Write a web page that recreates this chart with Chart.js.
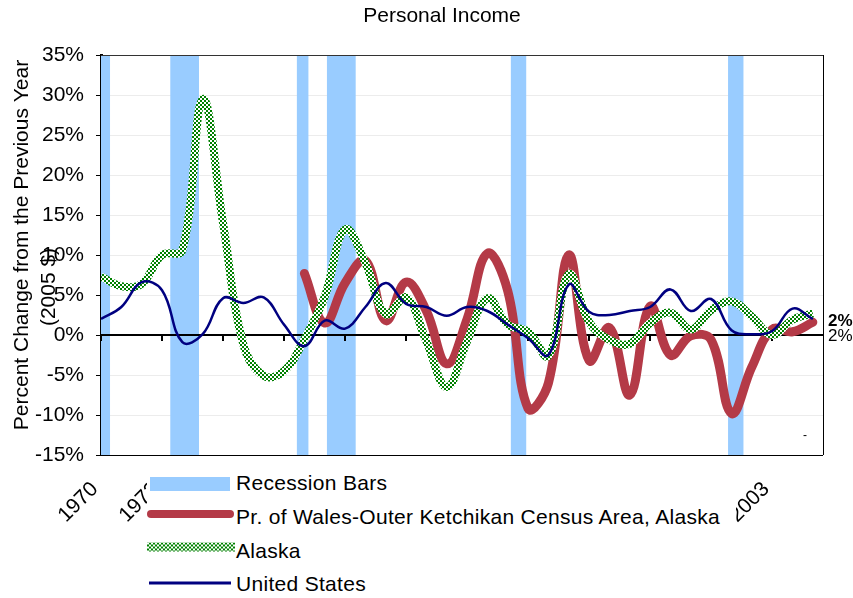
<!DOCTYPE html>
<html>
<head>
<meta charset="utf-8">
<script src="https://cdn.jsdelivr.net/npm/chart.js@4.4.0/dist/chart.umd.min.js"></script>
<style>
  html, body { margin: 0; padding: 0; background: #fff; }
  #wrap { position: relative; width: 853px; height: 598px; }
  #legend { position: absolute; left: 147px; top: 458px; width: 589px; height: 140px; background: #fff;
            font-family: "Liberation Sans", Arial, sans-serif; font-size: 21px; color: #000; }
  .sw, .txt { position: absolute; transform: translateY(-50%); }
  .txt { left: 89px; white-space: nowrap; line-height: 1; letter-spacing: 0.3px; }
</style>
</head>
<body>
<div id="wrap">
  <canvas id="chart" width="853" height="598"></canvas>
  <div id="legend"></div>
</div>
<script>
const years = [1970, 1971, 1972, 1973, 1974, 1975, 1976, 1977, 1978, 1979,
               1980, 1981, 1982, 1983, 1984, 1985, 1986, 1987, 1988, 1989,
               1990, 1991, 1992, 1993, 1994, 1995, 1996, 1997, 1998, 1999,
               2000, 2001, 2002, 2003, 2004, 2005];
const walesValues = [null, null, null, null, null, null, null, null, null, null,
                     7.7, 1.5, 6.5, 9.3, 1.8, 6.6, 3.0, -3.6, 2.0, 10.2,
                     5.5, -9.2, -6.0, 10.0, -3.2, 0.9, -7.5, 3.6, -2.5, -0.1,
                     -0.6, -9.8, -4.0, 0.7, 0.4, 1.6];
const alaskaValues = [7.3, 6.1, 6.4, 10.0, 10.6, 29.5, 14.0, -1.2, -5.1, -4.5,
                      -0.5, 4.8, 13.2, 9.0, 2.6, 4.7, -0.8, -6.5, -0.8, 4.6,
                      1.3, 0.4, -2.6, 7.6, 1.6, -0.6, -1.1, 1.5, 2.8, 0.7,
                      3.1, 4.2, 2.3, 0.0, 1.9, 2.7];
const usValues = [2.0, 3.5, 6.6, 5.6, -0.9, 0.1, 4.6, 4.0, 4.7, 1.3,
                  -1.4, 1.8, 0.8, 3.5, 6.5, 3.9, 3.5, 2.4, 3.5, 3.0,
                  1.3, -0.4, -2.5, 6.3, 2.9, 2.5, 3.0, 3.5, 5.7, 3.0,
                  4.5, 0.6, 0.1, 0.5, 3.3, 2.0];
const recessionStart = [1969.9, 1973.4, 1979.62, 1981.1, 1990.14, 2000.83];
const recessionEnd = [1970.45, 1974.82, 1980.21, 1982.53, 1990.92, 2001.6];
const tickYears = [1970, 1973, 1976, 1979, 1982, 1985, 1988, 1991, 1994, 1997, 2000, 2003];
const yMin = -15, yMax = 35, yStep = 5;

const FONT = '"Liberation Sans", Arial, sans-serif';
Chart.defaults.font.family = FONT;
Chart.defaults.color = '#000';

const RED = '#B43A47';
const NAVY = '#000080';
const BAR_BLUE = '#99CCFF';

// checkered green pattern for the Alaska line
function checker() {
    const c = document.createElement('canvas');
    c.width = 4; c.height = 4;
    const g = c.getContext('2d');
    g.fillStyle = '#ffffff';
    g.fillRect(0, 0, 4, 4);
    g.fillStyle = '#008000';
    g.fillRect(0, 0, 2, 2);
    g.fillRect(2, 2, 2, 2);
    return g.createPattern(c, 'repeat');
}

function series(vals) {
    return years.map(function(y, i) { return { x: y, y: vals[i] }; });
}

const recessionPoints = [];
for (let i = 0; i < recessionStart.length; i++) {
    recessionPoints.push({ x: recessionStart[i], y: yMax });
    recessionPoints.push({ x: recessionEnd[i], y: yMax });
    recessionPoints.push({ x: recessionEnd[i], y: null });
}

const extras = {
    id: 'extras',
    afterDatasetDraw(chart, args) {
        if (args.index !== 0) return;
        // zero axis with tick marks
        const ctx = chart.ctx, a = chart.chartArea;
        const xs = chart.scales.x, ys = chart.scales.y;
        const y0 = Math.round(ys.getPixelForValue(0));
        ctx.save();
        ctx.strokeStyle = '#000';
        ctx.lineWidth = 2;
        ctx.beginPath();
        ctx.moveTo(a.left, y0);
        ctx.lineTo(a.right, y0);
        tickYears.forEach(function(t) {
            const px = Math.round(xs.getPixelForValue(t));
            ctx.moveTo(px, y0);
            ctx.lineTo(px, y0 + 6);
        });
        ctx.stroke();
        ctx.restore();
    },
    afterDraw(chart) {
        const ctx = chart.ctx, a = chart.chartArea;
        ctx.save();
        // frame
        ctx.lineWidth = 1;
        ctx.strokeStyle = '#333';
        ctx.beginPath();
        ctx.moveTo(a.left, a.top + 0.5); ctx.lineTo(a.right, a.top + 0.5);
        ctx.stroke();
        ctx.strokeStyle = '#000';
        ctx.beginPath();
        ctx.moveTo(a.right + 0.5, a.top); ctx.lineTo(a.right + 0.5, a.bottom);
        ctx.moveTo(a.left, a.bottom + 0.5); ctx.lineTo(a.right, a.bottom + 0.5);
        ctx.stroke();

        ctx.fillStyle = '#000';
        ctx.textAlign = 'center';
        ctx.textBaseline = 'middle';
        ctx.font = '21px ' + FONT;
        ctx.fillText('Personal Income', 442, 16);

        ctx.save();
        ctx.translate(22, 245);
        ctx.rotate(-Math.PI / 2);
        ctx.fillText('Percent Change from the Previous Year', 0, 0);
        ctx.restore();
        ctx.save();
        ctx.translate(49, 287);
        ctx.rotate(-Math.PI / 2);
        ctx.fillText('(2005 $)', 0, 0);
        ctx.restore();

        // end labels
        ctx.textAlign = 'left';
        ctx.font = 'bold 17px ' + FONT;
        ctx.fillText(Math.round(walesValues[walesValues.length - 1]) + '%', 828, 321);
        ctx.font = '17px ' + FONT;
        ctx.fillText(Math.round(usValues[usValues.length - 1]) + '%', 828, 336);
        ctx.font = '12px ' + FONT;
        ctx.fillText('-', 803, 436);
        ctx.restore();
    }
};

const chart = new Chart(document.getElementById('chart'), {
    type: 'line',
    data: {
        datasets: [
            {
                label: 'Recession Bars',
                data: recessionPoints,
                borderColor: 'rgba(0,0,0,0)',
                borderWidth: 0,
                backgroundColor: BAR_BLUE,
                fill: 'start',
                tension: 0,
                pointRadius: 0,
                spanGaps: false,
                order: 4
            },
            {
                label: 'Pr. of Wales-Outer Ketchikan Census Area, Alaska',
                data: series(walesValues),
                borderColor: RED,
                borderWidth: 9,
                borderCapStyle: 'round',
                borderJoinStyle: 'round',
                tension: 0.4,
                pointRadius: 0,
                fill: false,
                order: 3
            },
            {
                label: 'Alaska',
                data: series(alaskaValues),
                borderColor: checker(),
                borderWidth: 8,
                borderJoinStyle: 'round',
                tension: 0.4,
                pointRadius: 0,
                fill: false,
                order: 2
            },
            {
                label: 'United States',
                data: series(usValues),
                borderColor: NAVY,
                borderWidth: 2.5,
                tension: 0.4,
                pointRadius: 0,
                fill: false,
                order: 1
            }
        ]
    },
    options: {
        responsive: false,
        animation: false,
        layout: { padding: { top: 55, right: 30, bottom: 0, left: 0 } },
        plugins: {
            legend: { display: false },
            title: { display: false },
            tooltip: { enabled: false }
        },
        scales: {
            x: {
                type: 'linear',
                min: 1970,
                max: 2005.5,
                afterBuildTicks: function(s) { s.ticks = tickYears.map(function(v) { return { value: v }; }); },
                afterFit: function(s) { s.height = 143; },
                ticks: {
                    autoSkip: false,
                    minRotation: 45,
                    maxRotation: 45,
                    padding: 22,
                    labelOffset: -6,
                    font: { size: 21 },
                    color: '#000',
                    callback: function(v) { return String(v); }
                },
                grid: { display: false, drawTicks: false },
                border: { display: false }
            },
            y: {
                min: yMin,
                max: yMax,
                afterFit: function(s) { s.width = 101; },
                ticks: {
                    stepSize: yStep,
                    padding: 12,
                    font: { size: 21 },
                    color: '#000',
                    callback: function(v) { return v + '%'; }
                },
                grid: { color: '#ececec', tickColor: '#000', tickLength: 5, lineWidth: 1 },
                border: { display: true, color: '#000', width: 3 }
            }
        }
    },
    plugins: [extras]
});

// legend box drawn over the lower axis labels
const legendItems = [
    { text: 'Recession Bars', css: 'left:3px;width:80px;height:14px;background:' + BAR_BLUE, mid: 26 },
    { text: 'Pr. of Wales-Outer Ketchikan Census Area, Alaska', css: 'left:0px;width:87px;height:8px;border-radius:4px;background:' + RED, mid: 56 },
    { text: 'Alaska', css: 'left:0px;width:88px;height:9px;background:repeating-conic-gradient(#008000 0 25%, #fff 0 50%) 0 0/4px 4px', mid: 89 },
    { text: 'United States', css: 'left:2px;width:82px;height:3px;background:' + NAVY, mid: 125 }
];
const legendEl = document.getElementById('legend');
legendItems.forEach(function(item, i) {
    const sw = document.createElement('div');
    sw.className = 'sw';
    sw.style.cssText += item.css + ';top:' + item.mid + 'px';
    const tx = document.createElement('div');
    tx.className = 'txt';
    tx.style.top = (24.3 + i * 33.7) + 'px';
    tx.textContent = item.text;
    legendEl.appendChild(sw);
    legendEl.appendChild(tx);
});
</script>
</body>
</html>
